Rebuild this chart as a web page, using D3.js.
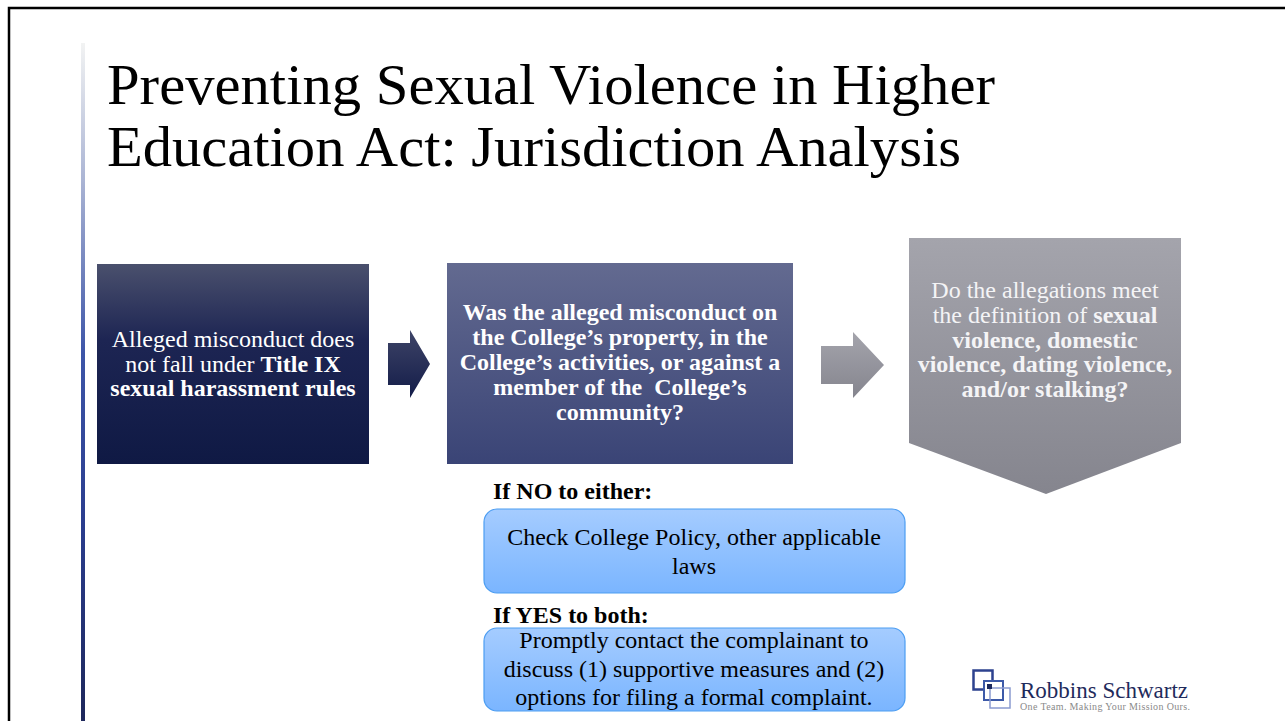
<!DOCTYPE html>
<html>
<head>
<meta charset="utf-8">
<script src="https://cdn.jsdelivr.net/npm/d3@7"></script>
<style>
  html, body { margin: 0; padding: 0; background: #fff; }
  svg { display: block; }
  text { font-family: "Liberation Serif", "Times New Roman", serif; white-space: pre; }
</style>
</head>
<body>
<script>
// slide content - "**" toggles bold inside a line
var titleLines = ["Preventing Sexual Violence in Higher", "Education Act: Jurisdiction Analysis"];
var stepOneLines = ["Alleged misconduct does", "not fall under **Title IX**", "**sexual harassment rules**"];
var stepTwoLines = ["**Was the alleged misconduct on**", "**the College\u2019s property, in the**",
  "**College\u2019s activities, or against a**", "**member of the  College\u2019s**", "**community?**"];
var stepThreeLines = ["Do the allegations meet", "the definition of **sexual**", "**violence, domestic**",
  "**violence, dating violence,**", "**and/or stalking?**"];
var branchLabels = ["If NO to either:", "If YES to both:"];
var branchLines = [
  ["Check College Policy, other applicable", "laws"],
  ["Promptly contact the complainant to", "discuss (1) supportive measures and (2)", "options for filing a formal complaint."]
];
var logoName = "Robbins Schwartz";
var logoTagline = "One Team. Making Your Mission Ours.";

(function(){
  var width = 1285, height = 721;

  var svg = d3.select("body").append("svg")
    .attr("width", width)
    .attr("height", height);

  var defs = svg.append("defs");

  //vertical gradient helper
  function grad(id, stops){
    var g = defs.append("linearGradient")
      .attr("id", id)
      .attr("x1", 0).attr("y1", 0).attr("x2", 0).attr("y2", 1);
    stops.forEach(function(s){
      g.append("stop").attr("offset", s[0]).attr("stop-color", s[1]);
    });
  }
  grad("sideBar", [[0, "#f2f3f3"], [0.2, "#aab4d4"], [0.45, "#3d55a8"], [0.7, "#2a3d8e"], [1, "#1d2658"]]);
  grad("navy", [[0, "#4a506d"], [0.38, "#1d2553"], [1, "#0f1944"]]);
  grad("navyArrow", [[0, "#3e4467"], [1, "#131c49"]]);
  grad("slate", [[0, "#636a90"], [1, "#3a4476"]]);
  grad("grey", [[0, "#a4a4ac"], [1, "#85858e"]]);
  grad("sky", [[0, "#a5ccff"], [1, "#7ab5ff"]]);

  //slide frame
  svg.append("rect")
    .attr("x", 9).attr("y", 8)
    .attr("width", 1400).attr("height", 800)
    .attr("fill", "none")
    .attr("stroke", "#000")
    .attr("stroke-width", 2.5);

  svg.append("rect")
    .attr("x", 81).attr("y", 43)
    .attr("width", 4).attr("height", 690)
    .attr("fill", "url(#sideBar)");

  //title
  var titleY = d3.scalePoint().domain(d3.range(titleLines.length)).range([104, 166]);
  var titleFit = [888, 854];
  svg.selectAll(".title")
    .data(titleLines)
    .enter()
    .append("text")
    .attr("class", "title")
    .attr("x", 107)
    .attr("y", function(d, i){ return titleY(i); })
    .attr("font-size", 56)
    .attr("textLength", function(d, i){ return titleFit[i]; })
    .attr("lengthAdjust", "spacingAndGlyphs")
    .attr("fill", "#000")
    .text(function(d){ return d; });

  //writes centred lines with **bold** runs
  function richLines(g, lines, cx, y0, step, size, color){
    lines.forEach(function(line, i){
      var t = g.append("text")
        .attr("x", cx)
        .attr("y", y0 + i * step)
        .attr("text-anchor", "middle")
        .attr("font-size", size)
        .attr("fill", color);
      line.split("**").forEach(function(part, k){
        if (!part) return;
        t.append("tspan")
          .attr("font-weight", k % 2 ? "bold" : "normal")
          .text(part);
      });
    });
  }

  //step boxes
  var flow = svg.append("g").attr("class", "flow");

  flow.append("rect")
    .attr("x", 97).attr("y", 264)
    .attr("width", 272).attr("height", 200)
    .attr("fill", "url(#navy)");
  richLines(flow, stepOneLines, 233, 347, 24.5, 24, "#fff");

  flow.append("rect")
    .attr("x", 447).attr("y", 263)
    .attr("width", 346).attr("height", 201)
    .attr("fill", "url(#slate)");
  richLines(flow, stepTwoLines, 620, 320, 25, 24, "#fff");

  //block arrows
  function arrow(x0, x1, xHead, yMid, bodyH, headH, fill){
    var line = d3.line();
    var pts = [
      [x0, yMid - bodyH / 2], [xHead, yMid - bodyH / 2], [xHead, yMid - headH / 2],
      [x1, yMid], [xHead, yMid + headH / 2], [xHead, yMid + bodyH / 2], [x0, yMid + bodyH / 2]
    ];
    flow.append("path")
      .attr("d", line(pts) + "Z")
      .attr("fill", fill);
  }
  arrow(388, 430, 410, 364, 42, 68, "url(#navyArrow)");
  arrow(821, 884, 853, 365, 38, 66, "url(#grey)");

  //chevron pointing down
  var chevron = [[909, 238], [1181, 238], [1181, 443], [1046, 494], [909, 443]];
  flow.append("path")
    .attr("d", d3.line()(chevron) + "Z")
    .attr("fill", "url(#grey)");
  richLines(flow, stepThreeLines, 1045, 298, 24.8, 24, "#f4f4f6");

  //outcome boxes
  var boxTops = [509, 628];
  var boxHeights = [84, 83];
  var labelYs = [499, 623];
  var textTops = [545, 648];
  var textStep = [28.5, 28.5];

  branchLabels.forEach(function(label, i){
    svg.append("text")
      .attr("x", 493)
      .attr("y", labelYs[i])
      .attr("font-size", 24)
      .attr("font-weight", "bold")
      .attr("fill", "#000")
      .text(label);

    svg.append("rect")
      .attr("x", 484).attr("y", boxTops[i])
      .attr("width", 421).attr("height", boxHeights[i])
      .attr("rx", 13)
      .attr("fill", "url(#sky)")
      .attr("stroke", "#4c9df2")
      .attr("stroke-width", 1.2);

    richLines(svg, branchLines[i], 694, textTops[i], textStep[i], 24, "#000");
  });

  //logo
  var logo = svg.append("g").attr("class", "logo");
  logo.append("rect")
    .attr("x", 973.5).attr("y", 670.5).attr("width", 19).attr("height", 19)
    .attr("fill", "none").attr("stroke", "#2d428f").attr("stroke-width", 2.5);
  logo.append("rect")
    .attr("x", 984).attr("y", 681).attr("width", 19).attr("height", 19)
    .attr("fill", "#fff").attr("stroke", "#3d5aa8").attr("stroke-width", 2);
  logo.append("rect")
    .attr("x", 990).attr("y", 688).attr("width", 20).attr("height", 20)
    .attr("fill", "none").attr("stroke", "#8a9bd0").attr("stroke-width", 1.5);
  logo.append("rect")
    .attr("x", 987).attr("y", 684).attr("width", 5).attr("height", 5)
    .attr("fill", "#1d2a5e");
  logo.append("text")
    .attr("x", 1020).attr("y", 698)
    .attr("font-size", 23)
    .attr("fill", "#1f2b5c")
    .text(logoName);
  logo.append("text")
    .attr("x", 1020).attr("y", 710)
    .attr("font-size", 10)
    .attr("textLength", 170)
    .attr("fill", "#8a8a8a")
    .text(logoTagline);
})();
</script>
</body>
</html>
